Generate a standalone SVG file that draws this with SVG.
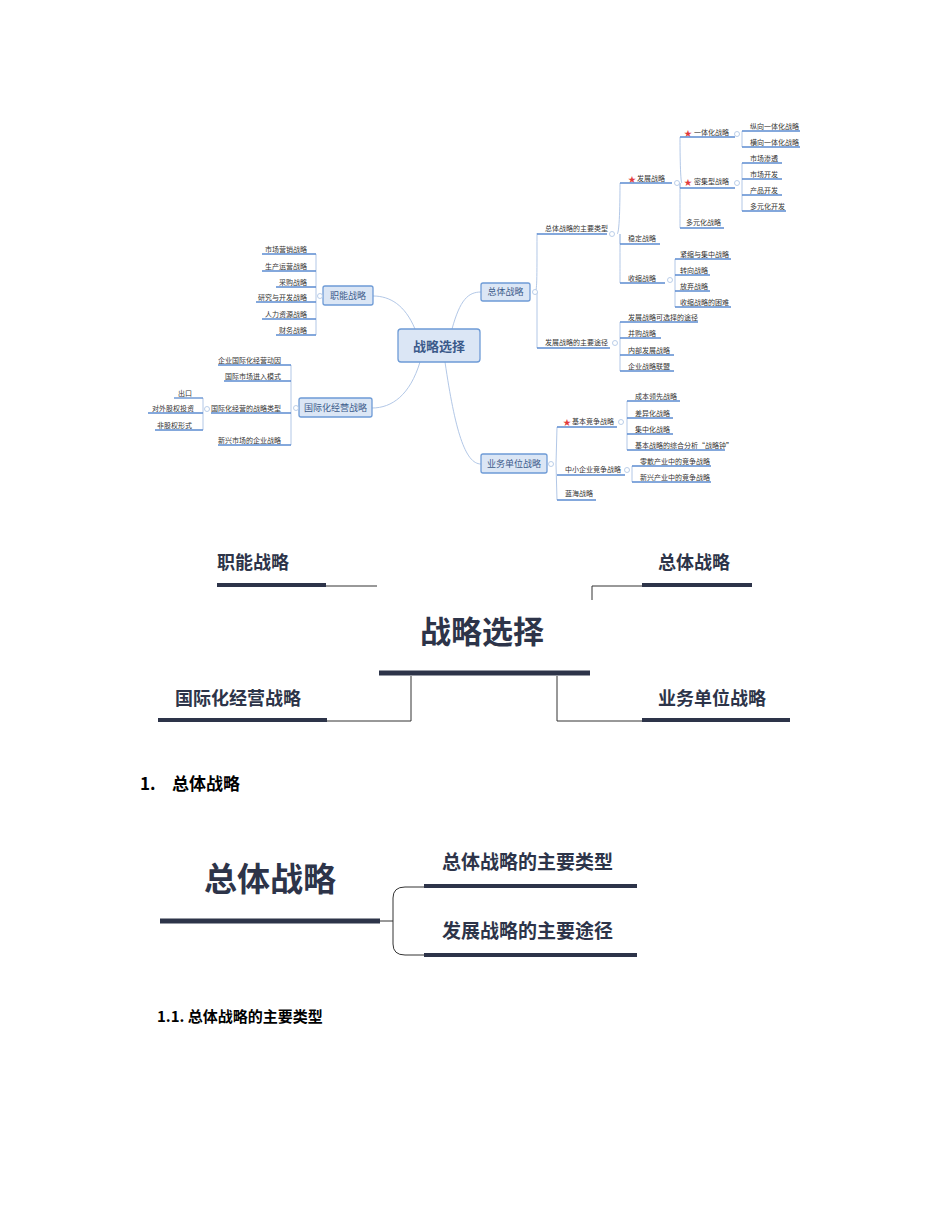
<svg xmlns="http://www.w3.org/2000/svg" width="950" height="1230" viewBox="0 0 950 1230">
<style>
text{font-family:"Noto Sans CJK SC","Liberation Sans",sans-serif}
.s{font-size:7px;fill:#333}
.r{text-anchor:end}
.u{stroke:#5b8bd0;stroke-width:1.3;fill:none}
.c{stroke:#a9c1e3;stroke-width:0.9;fill:none}
.b{fill:#dbe6f5;stroke:#6e9bd6;stroke-width:1.3}
.bt{font-size:9px;fill:#3b5a8a;text-anchor:middle}
.o{fill:#fff;stroke:#a9c1e3;stroke-width:0.8}
.st{fill:#e23b3b;font-size:8px}
.h{font-weight:bold;fill:#2d3449}
.bar{stroke:#2d3449;fill:none}
.thin{stroke:#333;stroke-width:1;fill:none}
</style>
<rect width="950" height="1230" fill="#fff"/>
<g id="connectors">
<path class="c" d="M452,329 C460,300 468,292 481,292"/>
<path class="c" d="M415,329 C405,305 390,296 373,296"/>
<path class="c" d="M420,362 C410,395 392,408 372,408"/>
<path class="c" d="M445,362 C455,430 465,464 481,464"/>
<path class="c" d="M535,292 C537,292 537,280 537,233 M537,292 L537,348"/>
<path class="c" d="M617,234 C620,234 620,190 620,183 M620,234 L620,244 M620,234 C620,260 620,283 620,283"/>
<path class="c" d="M682,183 C680,183 680,140 680,137 M680,183 L680,188 M680,183 C680,200 680,228 680,228"/>
<path class="c" d="M742,134 C742,131 742,131 742,131 M742,134 L742,147"/>
<path class="c" d="M742,183 L742,163 M742,183 L742,211"/>
<path class="c" d="M675,280 L675,259 M675,280 L675,307"/>
<path class="c" d="M620,343 L620,322 M620,343 L620,371"/>
<path class="c" d="M556,464 L557,427 M556,464 L557,500"/>
<path class="c" d="M627,422 L627,401 M627,422 L627,450"/>
<path class="c" d="M632,470 L632,466 M632,470 L632,482"/>
<path class="c" d="M316,296 L316,254 M316,296 L316,335"/>
<path class="c" d="M291,408 L291,365 M291,408 L291,445"/>
<path class="c" d="M203,409 L203,398 M203,409 L203,430"/>
</g>
<g id="center"><rect class="b" x="398" y="329" width="82" height="33" rx="3" stroke-width="2"/><text x="439" y="351" class="bt" style="font-size:13px;font-weight:bold">战略选择</text></g>
<g id="zongti"><rect class="b" x="481" y="283" width="49" height="18" rx="2"/><text x="505.5" y="295" class="bt">总体战略</text><circle class="o" cx="535" cy="292" r="2.5"/></g>
<g id="zhineng"><rect class="b" x="323" y="286" width="50" height="19" rx="2"/><text x="348" y="299" class="bt">职能战略</text><circle class="o" cx="320" cy="296" r="2.5"/></g>
<g id="guoji"><rect class="b" x="299" y="398" width="73" height="19" rx="2"/><text x="335.5" y="411" class="bt">国际化经营战略</text><circle class="o" cx="296" cy="408" r="2.5"/></g>
<g id="yewu"><rect class="b" x="481" y="454" width="66" height="19" rx="2"/><text x="514" y="467" class="bt">业务单位战略</text><circle class="o" cx="551" cy="464" r="2.5"/></g>
<g id="right-items">
<text x="545" y="231" class="s">总体战略的主要类型</text><path class="u" d="M537,234H607"/><circle class="o" cx="612" cy="234" r="2.5"/>
<text x="628" y="182" class="st">★</text><text x="637" y="181" class="s">发展战略</text><path class="u" d="M620,183H672"/><circle class="o" cx="677" cy="183" r="2.5"/>
<text x="684" y="136" class="st">★</text><text x="694" y="135" class="s">一体化战略</text><path class="u" d="M680,137H735"/><circle class="o" cx="737" cy="134" r="2.5"/>
<text x="750" y="129" class="s">纵向一体化战略</text><path class="u" d="M742,131H800"/>
<text x="750" y="145" class="s">横向一体化战略</text><path class="u" d="M742,147H800"/>
<text x="684" y="185" class="st">★</text><text x="694" y="184" class="s">密集型战略</text><path class="u" d="M680,188H735"/><circle class="o" cx="737" cy="183" r="2.5"/>
<text x="750" y="161" class="s">市场渗透</text><path class="u" d="M742,163H782"/>
<text x="750" y="177" class="s">市场开发</text><path class="u" d="M742,179H782"/>
<text x="750" y="193" class="s">产品开发</text><path class="u" d="M742,195H782"/>
<text x="750" y="209" class="s">多元化开发</text><path class="u" d="M742,211H786"/>
<text x="686" y="225" class="s">多元化战略</text><path class="u" d="M680,228H724"/>
<text x="628" y="241" class="s">稳定战略</text><path class="u" d="M620,244H660"/>
<text x="628" y="281" class="s">收缩战略</text><path class="u" d="M620,283H665"/><circle class="o" cx="670" cy="280" r="2.5"/>
<text x="680" y="257" class="s">紧缩与集中战略</text><path class="u" d="M675,259H731"/>
<text x="680" y="273" class="s">转向战略</text><path class="u" d="M675,275H710"/>
<text x="680" y="289" class="s">放弃战略</text><path class="u" d="M675,291H710"/>
<text x="680" y="305" class="s">收缩战略的困难</text><path class="u" d="M675,307H731"/>
<text x="545" y="345" class="s">发展战略的主要途径</text><path class="u" d="M537,348H610"/><circle class="o" cx="615" cy="343" r="2.5"/>
<text x="628" y="320" class="s">发展战略可选择的途径</text><path class="u" d="M620,322H698"/>
<text x="628" y="336" class="s">并购战略</text><path class="u" d="M620,338H661"/>
<text x="628" y="353" class="s">内部发展战略</text><path class="u" d="M620,355H674"/>
<text x="628" y="369" class="s">企业战略联盟</text><path class="u" d="M620,371H674"/>
<text x="563" y="425" class="st">★</text><text x="572" y="424" class="s">基本竞争战略</text><path class="u" d="M557,427H617"/><circle class="o" cx="621" cy="422" r="2.5"/>
<text x="635" y="399" class="s">成本领先战略</text><path class="u" d="M627,401H680"/>
<text x="635" y="416" class="s">差异化战略</text><path class="u" d="M627,418H673"/>
<text x="635" y="432" class="s">集中化战略</text><path class="u" d="M627,434H673"/>
<text x="635" y="448" class="s">基本战略的综合分析“战略钟”</text><path class="u" d="M627,450H725"/>
<text x="565" y="472" class="s">中小企业竞争战略</text><path class="u" d="M557,475H625"/><circle class="o" cx="627" cy="470" r="2.5"/>
<text x="640" y="464" class="s">零散产业中的竞争战略</text><path class="u" d="M632,466H711"/>
<text x="640" y="480" class="s">新兴产业中的竞争战略</text><path class="u" d="M632,482H711"/>
<text x="565" y="496" class="s">蓝海战略</text><path class="u" d="M557,500H596"/>
</g>
<g id="left-items">
<text x="307" y="252" class="s r">市场营销战略</text><path class="u" d="M262,254H316"/>
<text x="307" y="269" class="s r">生产运营战略</text><path class="u" d="M262,271H316"/>
<text x="307" y="285" class="s r">采购战略</text><path class="u" d="M276,287H316"/>
<text x="307" y="300" class="s r">研究与开发战略</text><path class="u" d="M256,302H316"/>
<text x="307" y="317" class="s r">人力资源战略</text><path class="u" d="M262,319H316"/>
<text x="307" y="333" class="s r">财务战略</text><path class="u" d="M276,335H316"/>
<text x="281" y="363" class="s r">企业国际化经营动因</text><path class="u" d="M218,365H291"/>
<text x="281" y="379" class="s r">国际市场进入模式</text><path class="u" d="M224,381H291"/>
<text x="281" y="411" class="s r">国际化经营的战略类型</text><path class="u" d="M211,413H291"/><circle class="o" cx="207" cy="409" r="2.5"/>
<text x="281" y="443" class="s r">新兴市场的企业战略</text><path class="u" d="M218,445H291"/>
<text x="192" y="396" class="s r">出口</text><path class="u" d="M174,398H203"/>
<text x="194" y="411" class="s r">对外股权投资</text><path class="u" d="M148,413H203"/>
<text x="192" y="428" class="s r">非股权形式</text><path class="u" d="M155,430H203"/>
</g>
<g id="diagram2">
<text x="217" y="569" class="h" style="font-size:18px">职能战略</text><path class="bar" stroke-width="4" d="M217,585H326"/><path class="thin" d="M326,586H377"/>
<text x="658" y="569" class="h" style="font-size:18px">总体战略</text><path class="bar" stroke-width="4" d="M642,585H752"/><path class="thin" d="M642,586H592V600"/>
<text x="420" y="643" class="h" style="font-size:31px">战略选择</text><path class="bar" stroke-width="5" d="M379,673H590"/>
<text x="175" y="705" class="h" style="font-size:18px">国际化经营战略</text><path class="bar" stroke-width="4" d="M158,720H327"/><path class="thin" d="M327,721H411V676"/>
<text x="658" y="705" class="h" style="font-size:18px">业务单位战略</text><path class="bar" stroke-width="4" d="M642,720H790"/><path class="thin" d="M642,721H557V676"/>
</g>
<text x="140" y="790" class="h" style="font-size:17px;fill:#000">1.</text><text x="172" y="790" class="h" style="font-size:17px;fill:#000">总体战略</text>
<g id="diagram3">
<text x="204" y="891" class="h" style="font-size:33px">总体战略</text><path class="bar" stroke-width="5" d="M160,921H380"/>
<text x="442" y="869" class="h" style="font-size:19px">总体战略的主要类型</text><path class="bar" stroke-width="4" d="M424,886H637"/>
<text x="442" y="938" class="h" style="font-size:19px">发展战略的主要途径</text><path class="bar" stroke-width="4" d="M424,955H637"/>
<path class="thin" stroke="#2d3449" d="M380,921H393 M393,921 V898 Q393,887 405,887 H424 M393,921 V944 Q393,955 405,955 H424"/>
</g>
<text x="157" y="1022" class="h" style="font-size:15px;fill:#000">1.1. 总体战略的主要类型</text>
</svg>
